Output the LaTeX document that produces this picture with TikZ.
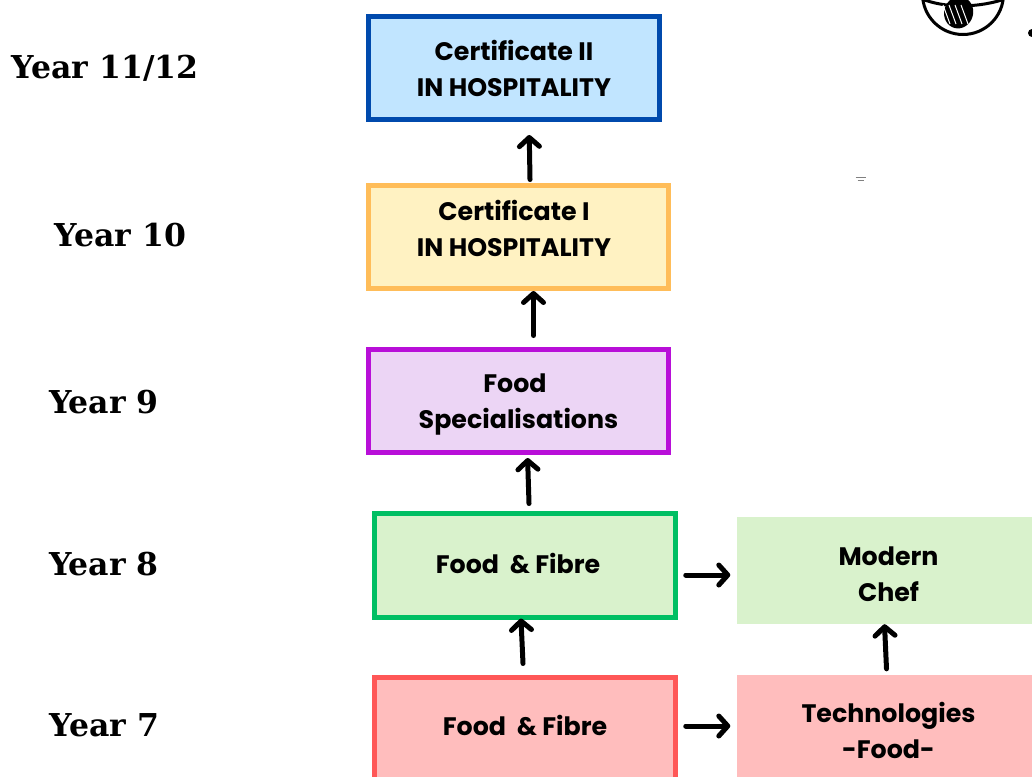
\documentclass[tikz,border=0pt]{standalone}
\usepackage{fontspec}
\setmainfont{Poppins Bold}
\newfontfamily\yearfont{DejaVu Serif}[BoldFont={* Bold}]
\usetikzlibrary{arrows.meta}
\definecolor{blueedge}{HTML}{004AAD}
\definecolor{bluefill}{HTML}{C1E5FF}
\definecolor{orangeedge}{HTML}{FFBD59}
\definecolor{orangefill}{HTML}{FFF2C2}
\definecolor{purpleedge}{HTML}{B80FD8}
\definecolor{purplefill}{HTML}{ECD5F5}
\definecolor{greenedge}{HTML}{00BF63}
\definecolor{greenfill}{HTML}{D9F2CC}
\definecolor{rededge}{HTML}{FF5757}
\definecolor{redfill}{HTML}{FFBDBD}
\tikzset{
  stagebox/.style={draw=#1edge,fill=#1fill,line width=5pt,minimum width=300.5pt,minimum height=103.5pt,
    inner sep=0pt,align=center,font=\fontsize{25.3}{36}\selectfont},
  sidebox/.style={fill=#1fill,minimum width=303pt,minimum height=107pt,
    inner sep=0pt,align=center,font=\fontsize{25.3}{36}\selectfont},
  yearlabel/.style={font=\yearfont\bfseries\fontsize{31.5}{36}\selectfont},
  uparrow/.style={line width=5pt,line cap=round,-{Straight Barb[length=9pt,width=20pt,line width=5pt,round]}},
}
\begin{document}
\begin{tikzpicture}[x=1pt,y=-1pt]
  \useasboundingbox (0,0) rectangle (1032,776);
  \clip (0,0) rectangle (1032,776);
  % stages
  \node[stagebox=blue,minimum width=291.5pt] (certii) at (514,68) {Certificate II\\IN HOSPITALITY};
  \node[stagebox=orange] (certi) at (518.5,237) {\hspace*{-9pt}Certificate I\\\hspace*{-9pt}IN HOSPITALITY\\[-18pt]\mbox{}};
  \node[stagebox=purple] (special) at (518.5,401) {\mbox{}\\[-10pt]\hspace*{-7pt}Food\\Specialisations};
  \node[stagebox=green] (fibreb) at (525,565.5) {\hspace*{-14pt}Food~~\&~Fibre\\[-32pt]\mbox{}};
  \node[stagebox=red] (fibrea) at (525,729) {Food~~\&~Fibre\\[-28pt]\mbox{}};
  % right column
  \node[sidebox=green] (chef) at (888.5,570.5) {\mbox{}\\[-10pt]Modern\\Chef};
  \node[sidebox=red] (techfood) at (888.5,728) {\mbox{}\\[-10pt]Technologies\\-Food-};
  % years
  \node[yearlabel] (yearxii) at (105,68) {Year 11/12};
  \node[yearlabel] (yearx) at (120.5,235) {Year 10};
  \node[yearlabel] (yearix) at (104,402) {Year 9};
  \node[yearlabel] (yearviii) at (104,564) {Year 8};
  \node[yearlabel] (yearvii) at (104.5,725) {Year 7};
  % arrows
  \draw[uparrow,shorten >=12.75pt] ([xshift=11.5pt,yshift=3.25pt]certi.north) -- ([xshift=15pt]certii.south);
  \draw[uparrow,shorten >=-.25pt] ([xshift=15pt,yshift=11.25pt]special.north) -- ([xshift=15pt]certi.south);
  \draw[uparrow,shorten >=2.75pt] ([xshift=4pt,yshift=7.75pt]fibreb.north) -- ([xshift=9pt]special.south);
  \draw[uparrow,shorten >=-1.25pt] ([xshift=-2pt,yshift=11.25pt]fibrea.north) -- ([xshift=-4pt]fibreb.south);
  \draw[uparrow,shorten >=0pt] ([xshift=-2pt,yshift=5.5pt]techfood.north) -- ([xshift=-4pt]chef.south);
  \draw[uparrow,shorten <=8pt,shorten >=6.5pt] (fibreb.east) ++(0,9.5) coordinate (fibrebout) (fibrebout) -- (chef.west |- fibrebout);
  \draw[uparrow,shorten <=8pt,shorten >=6.5pt] (fibrea.east) ++(0,-3) coordinate (fibreaout) (fibreaout) -- (techfood.west |- fibreaout);
  % whisk in bowl
  \draw[line width=3pt] (963,-6) circle (40.5);
  \draw[line width=3pt] (922,-1) .. controls (945,8) and (975,8) .. (1002,0);
  \fill[black,rotate around={-15:(958.5,13)}] (958.5,12.5) ellipse (14.5 and 16);
  \foreach \s in {-8,-2,4,10}
    \draw[white,line width=1pt] (951+\s,5) -- (958+\s,24);
  \fill[black] (1032,33) circle (4);
  % tiny mark
  \draw[gray,line width=.6pt] (855.5,177.5) -- (865.5,177.5);
  \draw[gray,line width=.6pt] (857.5,180) -- (863.5,180);
\end{tikzpicture}
\end{document}
